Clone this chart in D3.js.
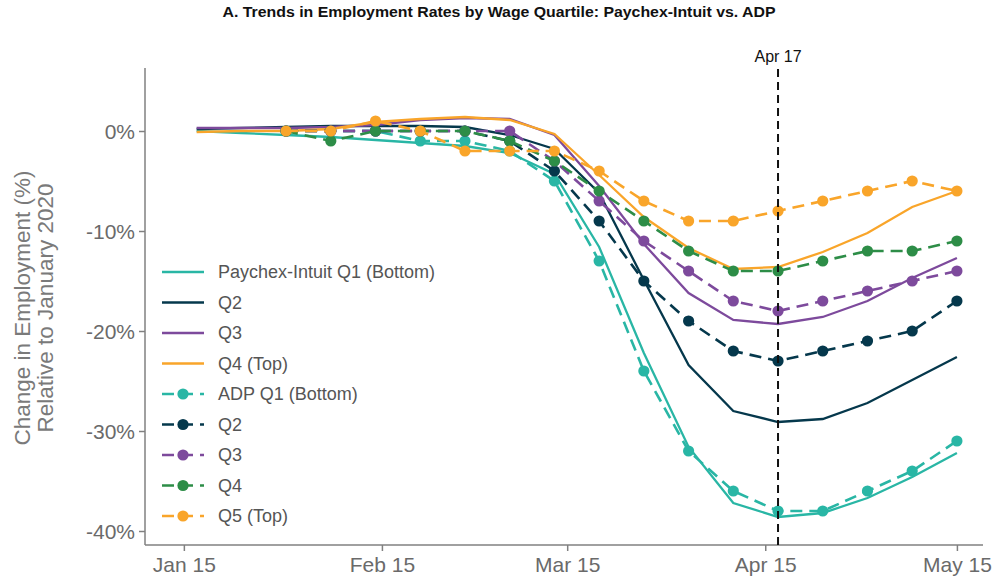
<!DOCTYPE html>
<html>
<head>
<meta charset="utf-8">
<script src="https://cdn.jsdelivr.net/npm/d3@7"></script>
<style>
  html, body { margin: 0; padding: 0; background: #fff; }
  svg { display: block; font-family: "Liberation Sans", Arial, Helvetica, sans-serif; }
</style>
</head>
<body>
<svg id="chart" width="998" height="581"></svg>
<script>
// weekly dates (Fridays)
const paychexDates = ["2020-01-17", "2020-01-24", "2020-01-31", "2020-02-07", "2020-02-14", "2020-02-21",
    "2020-02-28", "2020-03-06", "2020-03-13", "2020-03-20", "2020-03-27", "2020-04-03", "2020-04-10",
    "2020-04-17", "2020-04-24", "2020-05-01", "2020-05-08", "2020-05-15"];
const adpDates = paychexDates.slice(2);

// Paychex-Intuit, % change vs January 2020
const paychexQ1 = [0, -0.2, -0.4, -0.6, -0.9, -1.2, -1.5, -2.2, -4.3, -11.6, -22.2, -31.6, -37.2, -38.6, -38.2, -36.7, -34.6, -32.2];
const paychexQ2 = [0.2, 0.3, 0.4, 0.5, 0.5, 0.5, 0.4, -0.4, -1.8, -6.2, -14.9, -23.4, -28.0, -29.1, -28.8, -27.2, -24.9, -22.6];
const paychexQ3 = [0.3, 0.3, 0.3, 0.4, 0.6, 1.1, 1.3, 1.2, -0.4, -5.5, -11.3, -16.2, -18.9, -19.3, -18.6, -17.0, -14.7, -12.7];
const paychexQ4 = [-0.1, 0, 0, 0.2, 0.9, 1.2, 1.4, 1.1, -0.3, -4.4, -8.6, -11.7, -13.8, -13.6, -12.1, -10.2, -7.6, -6.0];

// ADP, % change vs January 2020
const adpQ1 = [0, 0, 0, -1, -1, -2, -5, -13, -24, -32, -36, -38, -38, -36, -34, -31];
const adpQ2 = [0, 0, 0, 0, 0, -1, -4, -9, -15, -19, -22, -23, -22, -21, -20, -17];
const adpQ3 = [0, 0, 0, 0, 0, 0, -3, -7, -11, -14, -17, -18, -17, -16, -15, -14];
const adpQ4 = [0, -1, 0, 0, 0, -1, -3, -6, -9, -12, -14, -14, -13, -12, -12, -11];
const adpQ5 = [0, 0, 1, 0, -2, -2, -2, -4, -7, -9, -9, -8, -7, -6, -5, -6];

const xTickLabels = ["Jan 15", "Feb 15", "Mar 15", "Apr 15", "May 15"];
const yTickValues = [0, -10, -20, -30, -40];
const markerDate = "2020-04-17";
const markerLabel = "Apr 17";

const teal = "#29b6a5", navy = "#05384c", purple = "#7d4a9c", orange = "#f9a52a", green = "#2d8d47";

const series = [
    { name: "Paychex-Intuit Q1 (Bottom)", dates: paychexDates, values: paychexQ1, color: teal, dashed: false },
    { name: "Q2", dates: paychexDates, values: paychexQ2, color: navy, dashed: false },
    { name: "Q3", dates: paychexDates, values: paychexQ3, color: purple, dashed: false },
    { name: "Q4 (Top)", dates: paychexDates, values: paychexQ4, color: orange, dashed: false },
    { name: "ADP Q1 (Bottom)", dates: adpDates, values: adpQ1, color: teal, dashed: true },
    { name: "Q2", dates: adpDates, values: adpQ2, color: navy, dashed: true },
    { name: "Q3", dates: adpDates, values: adpQ3, color: purple, dashed: true },
    { name: "Q4", dates: adpDates, values: adpQ4, color: green, dashed: true },
    { name: "Q5 (Top)", dates: adpDates, values: adpQ5, color: orange, dashed: true }
];

const parse = d3.utcParse("%Y-%m-%d");
const tickParse = d3.utcParse("%b %d %Y");

const svg = d3.select("#chart");
const axisColor = "#808080";
const textColor = "#6a6a6a";

const x = d3.scaleUtc()
    .domain([Date.UTC(2020, 0, 8, 22), Date.UTC(2020, 4, 19, 2)])
    .range([145, 983]);
const y = d3.scaleLinear()
    .domain([-41.4, 6.3])
    .range([545, 68]);

// title (the original is set in a condensed face, so stretch it to the same span)
svg.append("text")
    .attr("x", 499).attr("y", 17)
    .attr("text-anchor", "middle")
    .attr("textLength", 553)
    .attr("lengthAdjust", "spacingAndGlyphs")
    .style("font-size", "14px")
    .style("font-weight", "bold")
    .attr("fill", "#111")
    .text("A. Trends in Employment Rates by Wage Quartile: Paychex-Intuit vs. ADP");

// axes
const xAxis = d3.axisBottom(x)
    .tickValues(xTickLabels.map(t => tickParse(t + " 2020")))
    .tickFormat(d3.utcFormat("%b %d"))
    .tickSize(6).tickPadding(6);
const gx = svg.append("g").attr("transform", "translate(0,545)").call(xAxis);

const yAxis = d3.axisLeft(y)
    .tickValues(yTickValues)
    .tickFormat(d => d + "%")
    .tickSize(6).tickPadding(4);
const gy = svg.append("g").attr("transform", "translate(145,0)").call(yAxis);

[gx, gy].forEach(g => {
    g.select(".domain").attr("stroke", axisColor).attr("stroke-width", 1.5);
    g.selectAll(".tick line").attr("stroke", axisColor).attr("stroke-width", 1.5);
    g.selectAll(".tick text")
        .attr("fill", textColor)
        .style("font-size", "21px")
        .style("font-family", "\"Liberation Sans\", Arial, sans-serif");
});
gx.select(".domain").attr("d", "M145,0H983");
gy.select(".domain").attr("d", "M0,545V68");
gy.selectAll(".tick text").attr("dy", "0.36em");

// y axis title
const yTitle = ["Change in Employment (%)", "Relative to January 2020"];
yTitle.forEach((t, i) => {
    svg.append("text")
        .attr("transform", `translate(${30 + i * 23},308) rotate(-90)`)
        .attr("text-anchor", "middle")
        .attr("fill", "#7a7a7a")
        .style("font-size", "22.5px")
        .text(t);
});

// lines
const line = d3.line()
    .x(d => x(d.date))
    .y(d => y(d.value));

const plot = svg.append("g");
series.forEach(s => {
    const pts = s.dates.map((d, i) => ({ date: parse(d), value: s.values[i] }));
    plot.append("path")
        .datum(pts)
        .attr("fill", "none")
        .attr("stroke", s.color)
        .attr("stroke-width", s.dashed ? 2.6 : 2.3)
        .attr("stroke-dasharray", s.dashed ? "12,7" : null)
        .attr("d", line);
    if (s.dashed) {
        plot.selectAll(null)
            .data(pts)
            .enter().append("circle")
            .attr("cx", d => x(d.date))
            .attr("cy", d => y(d.value))
            .attr("r", 5.6)
            .attr("fill", s.color);
    }
});

// Apr 17 marker
const mx = x(parse(markerDate));
svg.append("line")
    .attr("x1", mx).attr("x2", mx)
    .attr("y1", 69).attr("y2", 545)
    .attr("stroke", "#111")
    .attr("stroke-width", 2)
    .attr("stroke-dasharray", "8,5");
svg.append("text")
    .attr("x", mx).attr("y", 62)
    .attr("text-anchor", "middle")
    .attr("fill", "#111")
    .style("font-size", "16px")
    .text(markerLabel);

// legend
const legend = svg.append("g").attr("transform", "translate(162,272)");
series.forEach((s, i) => {
    const row = legend.append("g").attr("transform", `translate(0,${i * 30.5})`);
    row.append("line")
        .attr("x1", 0).attr("x2", 42)
        .attr("stroke", s.color)
        .attr("stroke-width", 2.6)
        .attr("stroke-dasharray", s.dashed ? "12,7" : null);
    if (s.dashed) {
        row.append("circle").attr("cx", 21).attr("r", 5.6).attr("fill", s.color);
    }
    row.append("text")
        .attr("x", 56).attr("dy", "0.36em")
        .attr("fill", "#555")
        .style("font-size", "18px")
        .text(s.name);
});
</script>
</body>
</html>
